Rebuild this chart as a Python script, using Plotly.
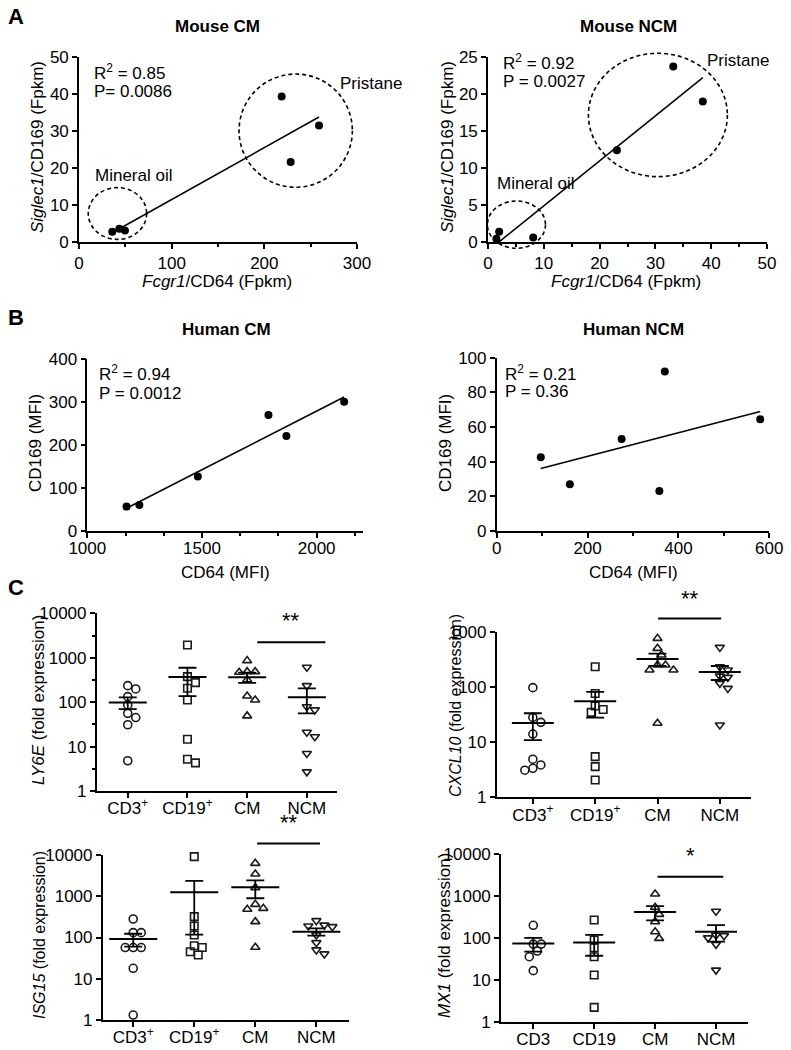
import numpy as np
import plotly.graph_objects as go

# ----------------------------- data -----------------------------
mouse_cm_cd64 = [35.9, 43.5, 49.6, 218.7, 228.4, 259.0]
mouse_cm_cd169 = [2.8, 3.6, 3.1, 39.3, 21.6, 31.5]
mouse_ncm_cd64 = [1.5, 2.0, 8.1, 23.1, 33.2, 38.5]
mouse_ncm_cd169 = [0.45, 1.4, 0.6, 12.4, 23.7, 19.0]
human_cm_cd64 = [1171, 1227, 1482, 1790, 1868, 2120]
human_cm_cd169 = [56, 60, 126, 269, 220, 300]
human_ncm_cd64 = [97, 161, 275, 358, 370, 580]
human_ncm_cd169 = [42.5, 26.9, 53, 23, 92, 64.4]

mouse_cm_stats = ["R<sup>2</sup> = 0.85", "P= 0.0086"]
mouse_ncm_stats = ["R<sup>2</sup> = 0.92", "P = 0.0027"]
human_cm_stats = ["R<sup>2</sup> = 0.94", "P = 0.0012"]
human_ncm_stats = ["R<sup>2</sup> = 0.21", "P = 0.36"]

groups_plus = ["CD3<sup>+</sup>", "CD19<sup>+</sup>", "CM", "NCM"]
groups_plain = ["CD3", "CD19", "CM", "NCM"]

ly6e_cd3 = [235, 198, 133, 86, 56, 45, 31, 4.8]
ly6e_cd19 = [1936, 375, 275, 205, 112, 14.6, 5.2, 4.3]
ly6e_cm = [860, 486, 470, 486, 320, 138, 112, 49]
ly6e_ncm = [609, 235, 79, 67, 21, 16.7, 7.0, 2.7]

cxcl10_cd3 = [97, 28, 22.8, 14, 4.9, 3.85, 3.1, 3.35]
cxcl10_cd19 = [232, 76, 45, 39, 34.6, 5.45, 3.6, 2.06]
cxcl10_cm = [757, 499, 378, 249, 202, 202, 249, 21.9]
cxcl10_ncm = [520, 232, 202, 149, 157, 116, 94, 20.4]

isg15_cd3 = [281, 131, 131, 57, 57, 57, 17.9, 1.32]
isg15_cd19 = [9120, 320, 190, 115, 57, 37.7, 45, 63]
isg15_cm = [6280, 3460, 1616, 637, 509, 482, 242, 58]
isg15_ncm = [256, 183, 200, 190, 115, 75, 50, 40]

mx1_cd3 = [199, 71, 71, 48.5, 35.5, 16.5]
mx1_cd19 = [266, 89, 58, 35.5, 13, 2.2]
mx1_cm = [1111, 534, 364, 243, 140, 97]
mx1_ncm = [430, 115, 100, 112, 70, 17]

# ----------------------------- layout geometry (px) -----------------------------
W, H = 791, 1050
FONT = "Liberation Sans, Arial, sans-serif"

P = {
    1: dict(x=(79, 357), y=(57, 242), xr=[0, 300], yr=[0, 50]),
    2: dict(x=(488, 767), y=(57, 242), xr=[0, 50], yr=[0, 25]),
    3: dict(x=(87.3, 362.5), y=(358.7, 530.7), xr=[1000, 2200], yr=[0, 400]),
    4: dict(x=(496.7, 769.3), y=(357.6, 531), xr=[0, 600], yr=[0, 100]),
    5: dict(x=(96.7, 336.7), y=(613.3, 791), xr=[-0.52, 3.5], yr=[0, 4]),
    6: dict(x=(496.7, 751), y=(631.7, 797.3), xr=[-0.58, 3.5], yr=[0, 3]),
    7: dict(x=(102.7, 349.3), y=(855, 1020), xr=[-0.5, 3.54], yr=[0, 4]),
    8: dict(x=(501, 748.3), y=(854, 1021.7), xr=[-0.53, 3.53], yr=[0, 4]),
}


def ax_names(i):
    return ("x" if i == 1 else f"x{i}"), ("y" if i == 1 else f"y{i}")


def to_paper(i, xv, yv):
    p = P[i]
    (x0, x1), (y0, y1) = p["x"], p["y"]
    xr, yr = p["xr"], p["yr"]
    px = x0 + (xv - xr[0]) / (xr[1] - xr[0]) * (x1 - x0)
    py = y1 - (yv - yr[0]) / (yr[1] - yr[0]) * (y1 - y0)
    return px / W, 1 - py / H


fig = go.Figure()
layout = dict(
    width=W, height=H, margin=dict(l=0, r=0, t=0, b=0, pad=0, autoexpand=False),
    paper_bgcolor="white", plot_bgcolor="white", showlegend=False,
    font=dict(family=FONT, size=17, color="black"),
)

axis_common = dict(
    showline=True, linecolor="black", linewidth=1.6, ticks="outside", ticklen=5,
    tickwidth=1.6, tickcolor="black", showgrid=False, zeroline=False,
    tickfont=dict(family=FONT, size=17, color="black"), fixedrange=True,
    automargin=False,
)

# ----------------------------- panels A & B -----------------------------
scatter_sets = [
    (1, mouse_cm_cd64, mouse_cm_cd169),
    (2, mouse_ncm_cd64, mouse_ncm_cd169),
    (3, human_cm_cd64, human_cm_cd169),
    (4, human_ncm_cd64, human_ncm_cd169),
]
lin_ticks = {
    1: (dict(tick0=0, dtick=100), dict(tick0=0, dtick=50), dict(tick0=0, dtick=10)),
    2: (dict(tick0=0, dtick=10), dict(tick0=0, dtick=5), dict(tick0=0, dtick=5)),
    3: (dict(tick0=1000, dtick=500), dict(tick0=1000, dtick=500 / 3), dict(tick0=0, dtick=100)),
    4: (dict(tick0=0, dtick=200), dict(tick0=0, dtick=100), dict(tick0=0, dtick=20)),
}
for i, xs, ys in scatter_sets:
    xn, yn = ax_names(i)
    xs_a, ys_a = np.array(xs, float), np.array(ys, float)
    slope, icpt = np.polyfit(xs_a, ys_a, 1)
    lx = np.array([xs_a.min(), xs_a.max()])
    fig.add_trace(go.Scatter(x=lx, y=slope * lx + icpt, mode="lines",
                             line=dict(color="black", width=1.6),
                             xaxis=xn, yaxis=yn, hoverinfo="skip"))
    fig.add_trace(go.Scatter(x=xs, y=ys, mode="markers", cliponaxis=False,
                             marker=dict(color="black", size=8, symbol="circle"),
                             xaxis=xn, yaxis=yn))
    p = P[i]
    xt, xm, yt = lin_ticks[i]
    layout["xaxis" if i == 1 else f"xaxis{i}"] = dict(
        axis_common, domain=[p["x"][0] / W, p["x"][1] / W], range=p["xr"],
        anchor=yn, tickmode="linear", ticklabelstandoff=(0 if i <= 2 else -4), **xt,
        minor=dict(ticks="outside", ticklen=3, tickwidth=1.6, tickcolor="black",
                   showgrid=False, **xm))
    layout["yaxis" if i == 1 else f"yaxis{i}"] = dict(
        axis_common, domain=[1 - p["y"][1] / H, 1 - p["y"][0] / H], range=p["yr"],
        anchor=xn, tickmode="linear", **yt)

# ----------------------------- panel C -----------------------------
def swarm(values, px_dec, px_cat, d=8.0):
    ys = np.log10(np.array(values, float)) * px_dec
    order = np.argsort(-np.array(values, float), kind="stable")
    cands = sorted([k * d / 2 for k in range(-8, 9)], key=lambda o: (abs(o), -o))
    placed, offs = [], np.zeros(len(values))
    for idx in order:
        chosen = cands[-1]
        for o in cands:
            if all((o - po) ** 2 + (ys[idx] - py) ** 2 >= (0.9 * d) ** 2 for po, py in placed):
                chosen = o
                break
        placed.append((chosen, ys[idx]))
        offs[idx] = chosen / px_cat
    return offs


symbols = ["circle-open", "square-open", "triangle-up-open", "triangle-down-open"]
c_sets = [
    (5, [ly6e_cd3, ly6e_cd19, ly6e_cm, ly6e_ncm], groups_plus, 38, True),
    (6, [cxcl10_cd3, cxcl10_cd19, cxcl10_cm, cxcl10_ncm], groups_plus, 42, False),
    (7, [isg15_cd3, isg15_cd19, isg15_cm, isg15_ncm], groups_plus, 48, False),
    (8, [mx1_cd3, mx1_cd19, mx1_cm, mx1_ncm], groups_plain, 42, False),
]
for i, data, labels, mean_len, minor in c_sets:
    xn, yn = ax_names(i)
    p = P[i]
    px_dec = (p["y"][1] - p["y"][0]) / (p["yr"][1] - p["yr"][0])
    px_cat = (p["x"][1] - p["x"][0]) / (p["xr"][1] - p["xr"][0])
    for g, vals in enumerate(data):
        offs = swarm(vals, px_dec, px_cat)
        fig.add_trace(go.Scatter(
            x=g + offs, y=vals, mode="markers", cliponaxis=False,
            marker=dict(symbol=symbols[g], size=8 if g != 1 else 7.5, color="#1a1a1a",
                        line=dict(width=1.6, color="#1a1a1a")),
            xaxis=xn, yaxis=yn))
    for g, vals in enumerate(data):
        v = np.array(vals, float)
        m = v.mean()
        sem = v.std(ddof=1) / np.sqrt(len(v))
        fig.add_trace(go.Scatter(
            x=[g], y=[m], mode="markers", cliponaxis=False,
            marker=dict(symbol="line-ew", size=mean_len / 1.4,
                        line=dict(width=2, color="black")),
            error_y=dict(type="data", array=[sem], visible=True, width=9,
                         thickness=1.8, color="black"),
            xaxis=xn, yaxis=yn))
    yax = dict(axis_common, domain=[1 - p["y"][1] / H, 1 - p["y"][0] / H],
               type="log", range=p["yr"], anchor=xn,
               tickmode="array",
               tickvals=[10 ** k for k in range(int(p["yr"][1]) + 1)],
               ticktext=[str(10 ** k) for k in range(int(p["yr"][1]) + 1)])
    if minor:
        yax["minor"] = dict(tickmode="array",
                            tickvals=[10 ** (k + 0.5) for k in range(int(p["yr"][1]))],
                            ticks="outside", ticklen=3, tickwidth=1.6, tickcolor="black",
                            showgrid=False)
    layout["yaxis" + str(i)] = yax
    layout["xaxis" + str(i)] = dict(
        axis_common, domain=[p["x"][0] / W, p["x"][1] / W], range=p["xr"], anchor=yn,
        tickmode="array", tickvals=[0, 1, 2, 3], ticktext=labels,
        ticklabelstandoff=-4,
        tickfont=dict(family=FONT, size=17, color="black"))

# ----------------------------- shapes & annotations -----------------------------
shapes, annots = [], []


def ann(text, x, y, size=17, bold=False, xanchor="center", angle=0, yanchor="middle"):
    annots.append(dict(
        text=f"<b>{text}</b>" if bold else text, x=x / W, y=1 - y / H,
        xref="paper", yref="paper", showarrow=False, xanchor=xanchor, yanchor=yanchor,
        textangle=angle, font=dict(family=FONT, size=size, color="black")))


# dashed group circles (data units)
circles = [
    (1, 10, 73, 0.7, 14.7), (1, 172.7, 295, 14.8, 45.4),
    (2, -0.1, 10.3, -0.85, 5.54), (2, 18.0, 42.9, 8.83, 25.5),
]
for i, x0, x1, y0, y1 in circles:
    px0, py0 = to_paper(i, x0, y0)
    px1, py1 = to_paper(i, x1, y1)
    shapes.append(dict(type="circle", xref="paper", yref="paper",
                       x0=px0, x1=px1, y0=py0, y1=py1,
                       line=dict(color="black", width=1.6, dash="4px,3px")))

# significance bars: (panel, x start, x end, bar value, star value, text)
sig = [
    (5, 2.17, 3.31, 2224, 7000, "**"),
    (6, 2.01, 3.02, 1740, 4000, "**"),
    (7, 2.03, 3.06, 19100, 60000, "**"),
    (8, 2.04, 3.12, 2880, 9460, "*"),
]
for i, xa_, xb_, yb, ys_, txt in sig:
    ax0, ay = to_paper(i, xa_, np.log10(yb))
    ax1, _ = to_paper(i, xb_, np.log10(yb))
    shapes.append(dict(type="line", xref="paper", yref="paper", x0=ax0, x1=ax1,
                       y0=ay, y1=ay, line=dict(color="black", width=2)))
    sx, sy = to_paper(i, (xa_ + xb_) / 2, np.log10(ys_))
    annots.append(dict(text=txt, x=sx, y=sy, xref="paper", yref="paper",
                       showarrow=False, xanchor="center", yanchor="middle",
                       font=dict(family=FONT, size=22, color="black")))

# panel letters
ann("A", 16, 16, size=22, bold=True)
ann("B", 16, 317, size=22, bold=True)
ann("C", 16, 587, size=22, bold=True)
# titles
ann("Mouse CM", 218, 26, bold=True)
ann("Mouse NCM", 628, 26, bold=True)
ann("Human CM", 226, 329, bold=True)
ann("Human NCM", 633, 329, bold=True)
# axis titles
ann("<i>Fcgr1</i>/CD64 (Fpkm)", 217, 281)
ann("<i>Fcgr1</i>/CD64 (Fpkm)", 626, 281)
ann("<i>Siglec1</i>/CD169 (Fpkm)", 37, 147, angle=-90)
ann("<i>Siglec1</i>/CD169 (Fpkm)", 447, 147, angle=-90)
ann("CD64 (MFI)", 225, 572)
ann("CD64 (MFI)", 633, 572)
ann("CD169 (MFI)", 35, 443, angle=-90)
ann("CD169 (MFI)", 445, 443, angle=-90)
ann("<i>LY6E</i> (fold expression)", 38, 700, angle=-90)
ann("<i>CXCL10</i> (fold expression)", 455, 706, angle=-90, size=16)
ann("<i>ISG15</i> (fold expression)", 40, 935, angle=-90, size=16)
ann("<i>MX1</i> (fold expression)", 445, 935, angle=-90)
# stats
for (x, y1_, y2_, stats) in [(92, 72, 91, mouse_cm_stats), (501, 62, 81, mouse_ncm_stats),
                             (97, 373, 393, human_cm_stats), (503, 373, 392, human_ncm_stats)]:
    ann(stats[0], x, y1_, xanchor="left")
    ann(stats[1], x, y2_, xanchor="left")
# group labels
ann("Mineral oil", 93, 176, xanchor="left")
ann("Pristane", 338, 84, xanchor="left")
ann("Mineral oil", 495, 184, xanchor="left")
ann("Pristane", 705, 60, xanchor="left")

layout["shapes"] = shapes
layout["annotations"] = annots
fig.update_layout(**layout)
fig.write_html(
    "out.html",
    config={"displayModeBar": False},
    post_script=["document.body.style.margin='0px';document.body.style.overflow='hidden';"],
)
